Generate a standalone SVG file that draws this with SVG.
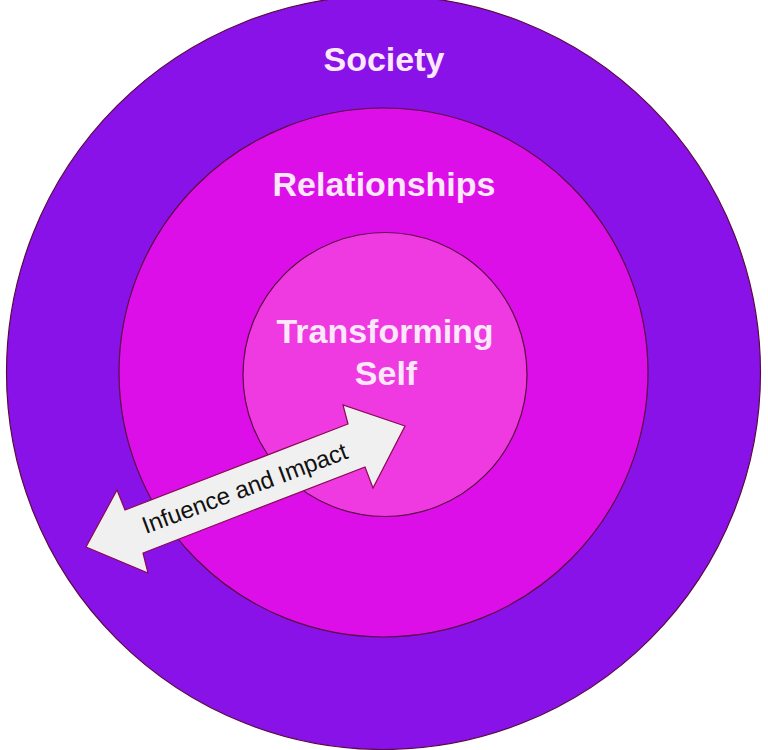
<svg xmlns="http://www.w3.org/2000/svg" width="768" height="750" viewBox="0 0 768 750">
<style>
.ring{stroke:#5a0a40;stroke-width:1.2}
.lbl{font-family:"Liberation Sans",Arial,sans-serif;font-weight:bold;font-size:34px;fill:#fde8fb;text-anchor:middle}
.arrowtxt{font-family:"Liberation Sans",Arial,sans-serif;font-size:24px;fill:#111;text-anchor:middle}
</style>
<rect width="768" height="750" fill="#ffffff"/>
<g id="society">
<circle class="ring" cx="383.5" cy="372.5" r="377" fill="#8912e9"/>
<text class="lbl" x="384" y="71">Society</text>
</g>
<g id="relationships">
<circle class="ring" cx="383.5" cy="372.5" r="264.5" fill="#dc0fe9"/>
<text class="lbl" x="384" y="196">Relationships</text>
</g>
<g id="self">
<circle class="ring" cx="385" cy="374.5" r="142" fill="#ee3ae0"/>
<text class="lbl" x="385" y="343">Transforming</text>
<text class="lbl" x="386" y="385">Self</text>
</g>
<g id="connectors">
<g id="influence-arrow">
<polygon points="405,426 343,405 348,424 125,510 117,490 86,547 148,573 143,553 365,467 373,488" fill="#f0f0f0" stroke="#8a0a50" stroke-width="1.2" stroke-linejoin="miter"/>
<text class="arrowtxt" transform="translate(247.5,496) rotate(-20.5)">Infuence and Impact</text>
</g>
</g>
</svg>
